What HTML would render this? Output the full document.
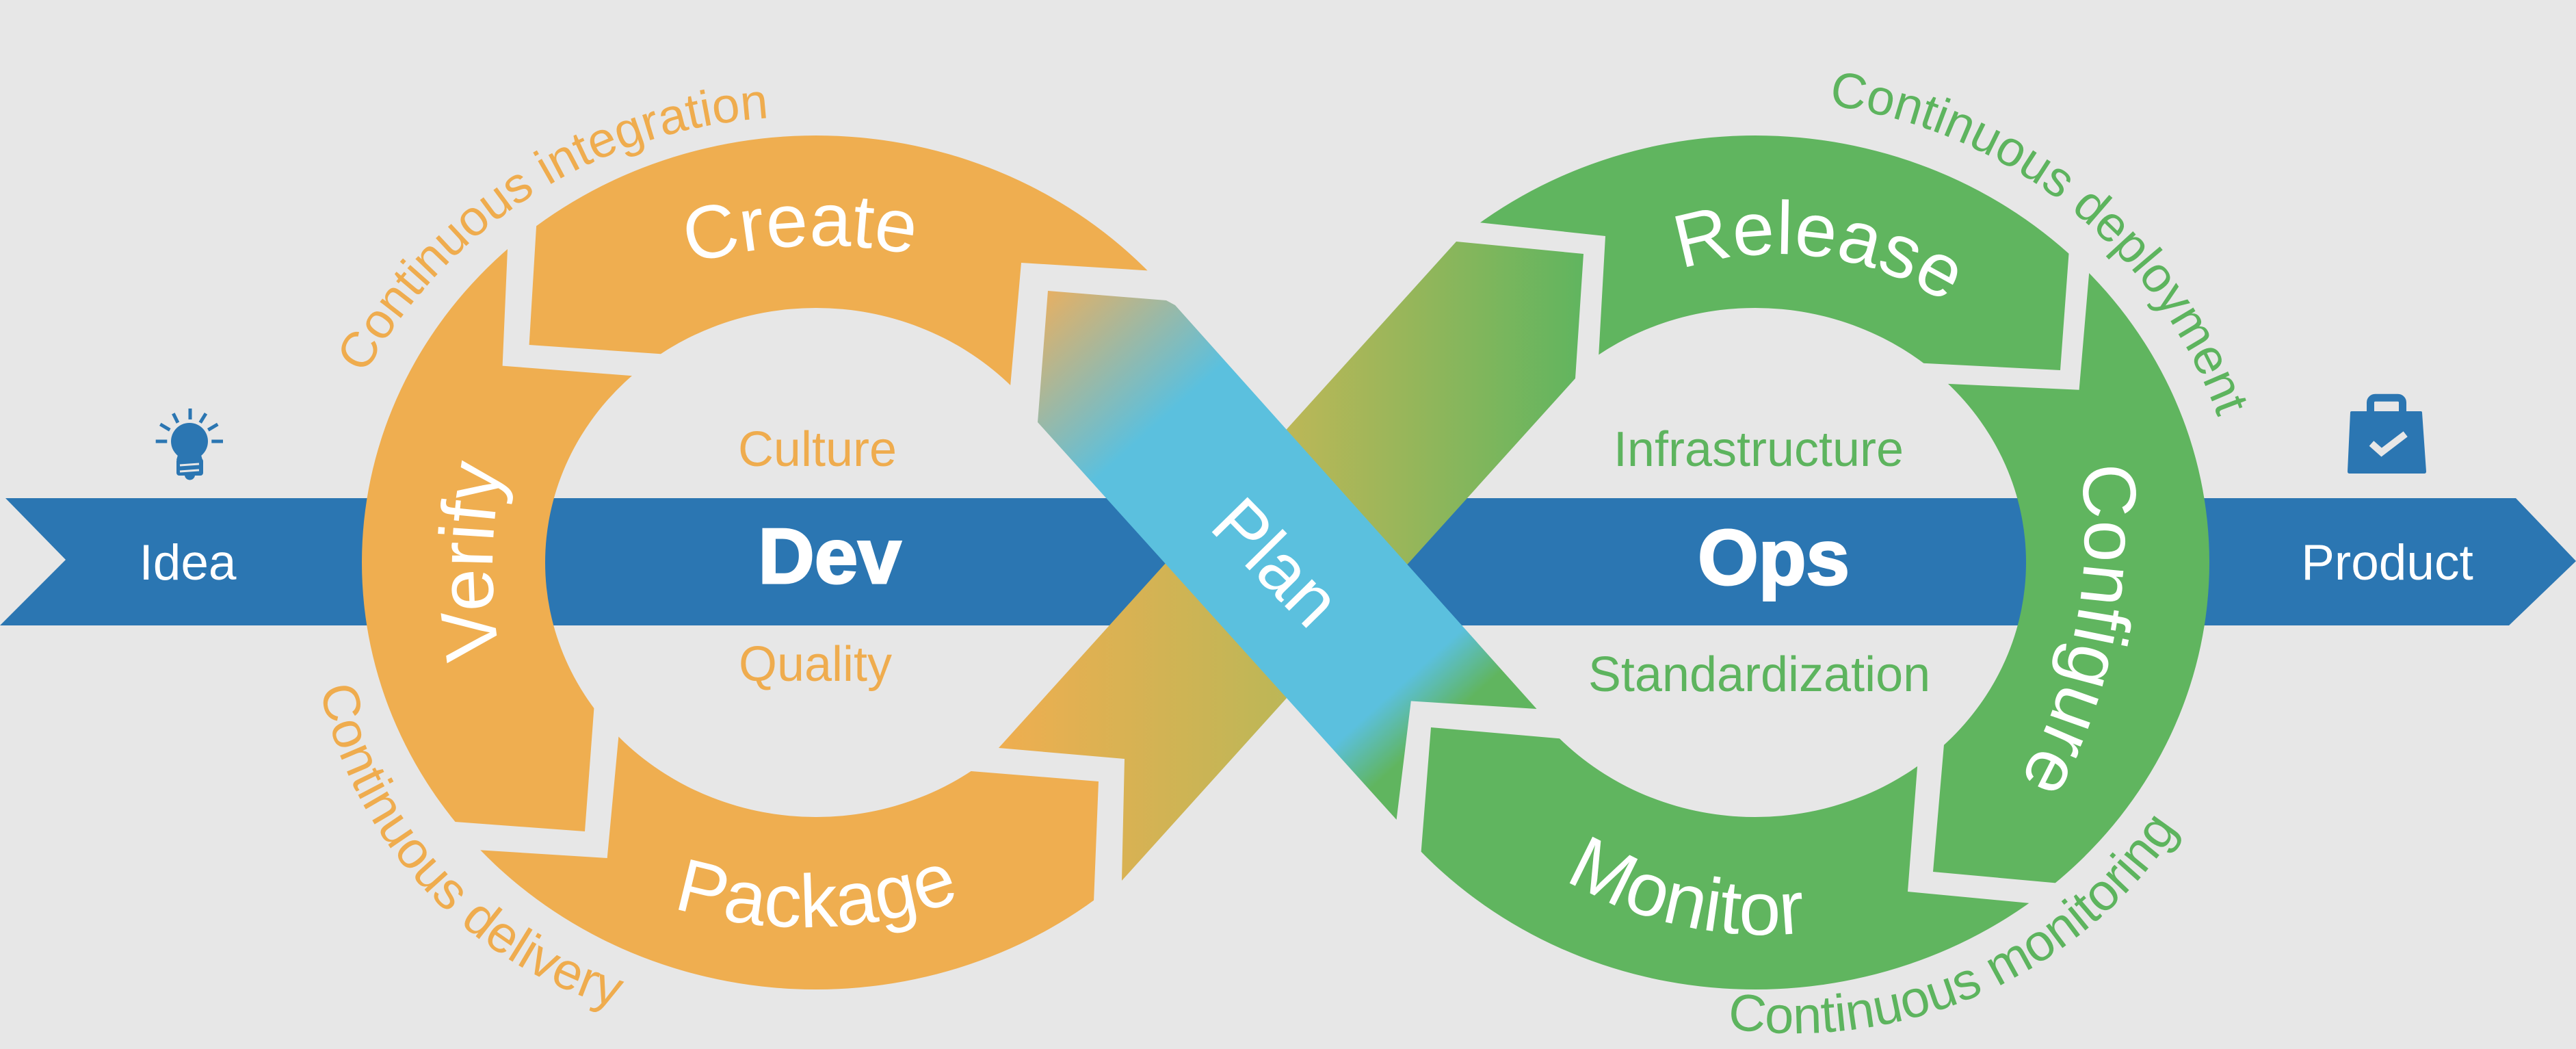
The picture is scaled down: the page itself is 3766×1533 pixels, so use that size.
<!DOCTYPE html>
<html>
<head>
<meta charset="utf-8">
<style>
html,body{margin:0;padding:0;background:#E7E7E7;}
svg{display:block;}
</style>
</head>
<body>
<svg xmlns="http://www.w3.org/2000/svg" width="3766" height="1533" viewBox="0 0 3766 1533">
<defs>
  <clipPath id="cO"><path clip-rule="evenodd" d="M529 822a664 624 0 1 0 1328 0a664 624 0 1 0 -1328 0Z M797 822a396 372 0 1 0 792 0a396 372 0 1 0 -792 0Z"/></clipPath>
  <clipPath id="cG"><path clip-rule="evenodd" d="M1902 822a664 624 0 1 0 1328 0a664 624 0 1 0 -1328 0Z M2170 822a396 372 0 1 0 792 0a396 372 0 1 0 -792 0Z"/></clipPath>
  <linearGradient id="gB" gradientUnits="userSpaceOnUse" x1="1460" y1="0" x2="2315" y2="0">
    <stop offset="0" stop-color="#EFAE50"/>
    <stop offset="0.5" stop-color="#BBB757"/>
    <stop offset="1" stop-color="#60B55F"/>
  </linearGradient>
  <linearGradient id="gA" gradientUnits="userSpaceOnUse" x1="1532" y1="425" x2="2156" y2="1116">
    <stop offset="0" stop-color="#E6B064"/>
    <stop offset="0.27" stop-color="#5BC0DE"/>
    <stop offset="0.83" stop-color="#5BC0DE"/>
    <stop offset="0.92" stop-color="#60B55F"/>
    <stop offset="1" stop-color="#60B55F"/>
  </linearGradient>
  <path id="pInt" d="M443 898 A727 727 0 0 1 1533.5 268.4"/>
  <path id="pDel" d="M491.5 663.3 A622 622 0 0 0 1184 1488.6"/>
  <path id="pDep" d="M2342.9 190.3 A702 702 0 0 1 3274.3 971.9"/>
  <path id="pMon" d="M2190.1 1352.1 A675 675 0 0 0 3299 835"/>
  <path id="pCreate" d="M542.2 819.6 A700 700 0 0 1 1857.8 819.6"/>
  <path id="pRelease" d="M2173.4 669.7 A454 454 0 0 1 3047.1 746.2"/>
  <path id="pPackage" d="M601 1023 A664 664 0 0 0 1751 1023"/>
  <path id="pMonitor" d="M2043.5 989.6 A572 572 0 0 0 3019.2 1161.7"/>
  <path id="pVerify" d="M1110 1505.5 A780 780 0 0 1 1110 154.5"/>
  <path id="pConfig" d="M2873 294.2 A748 748 0 0 1 2674 1422.8"/>
</defs>

<rect x="0" y="0" width="3766" height="1533" fill="#E7E7E7"/>

<!-- Blue band -->
<polygon points="8,728 3678,728 3766,820 3668,914 0,914 96,818" fill="#2B76B2"/>

<!-- Orange ring segments -->
<g fill="#EFAE50" clip-path="url(#cO)">
  <polygon points="798,100 773.6,504 1150,530 1466.8,680 1493,384 1900,409 1900,100"/>
  <polygon points="300,100 753.5,100 734.6,534.6 1050,559 878.5,900 855,1215 300,1174"/>
  <polygon points="916.2,950 887.7,1254 705,1242.5 400,1223.3 400,1600 1587.8,1600 1606,1142 1420,1127 1300,1117.3"/>
</g>

<!-- Green ring segments -->
<g fill="#60B55F" clip-path="url(#cG)">
  <polygon points="1900,100 3044.4,100 3012,541 2700,525 2327,700 2347,345 1900,297"/>
  <polygon points="3079.7,100 3400,100 3400,1326.5 2826,1274 2853.9,950 2750,556.4 3039.6,569.8"/>
  <polygon points="2049.5,1600 2092,1063 2288,1080 2450,1094 2816.2,950 2789,1303 3400,1361 3400,1600"/>
</g>

<!-- X arms -->
<polygon points="2129,353 2315,371 2303,553 1640,1287 1644,1109 1460,1093" fill="url(#gB)"/>
<polygon points="1532,425 1705,439 1718,446 2246.5,1036 2062.8,1024.5 2041.6,1197.9 1517,617" fill="url(#gA)"/>

<!-- Bulb icon -->
<g fill="#2B76B2">
  <circle cx="277" cy="645" r="27"/>
  <path d="M262 658 L292 658 L296 672 L258 672 Z"/>
  <rect x="258" y="670" width="39" height="25" rx="4"/>
  <path d="M270 694 L285 694 A7.5 7.5 0 0 1 270 694 Z"/>
</g>
<path d="M263 680 L291 678 M263 689 L291 687" stroke="#E7E7E7" stroke-width="3" fill="none"/>
<g stroke="#2B76B2" stroke-width="5" fill="none">
  <line x1="278" y1="597" x2="278" y2="613"/>
  <line x1="253.3" y1="604.3" x2="260" y2="617.7"/>
  <line x1="301" y1="604.3" x2="292.7" y2="617.7"/>
  <line x1="234.3" y1="620" x2="248.3" y2="628.3"/>
  <line x1="318.3" y1="620" x2="304.3" y2="628.3"/>
  <line x1="227.7" y1="645" x2="244.3" y2="645"/>
  <line x1="309.3" y1="645" x2="326" y2="645"/>
</g>

<!-- Bag icon -->
<rect x="3465.5" y="581.2" width="47" height="32" rx="7" fill="none" stroke="#2B76B2" stroke-width="11"/>
<path d="M3438 601 L3539 601 Q3541 601 3541 603 L3547 689 Q3547 692 3544 692 L3435 692 Q3432 692 3432 689 L3436 603 Q3436 601 3438 601 Z" fill="#2B76B2"/>
<polyline points="3467,648 3481.7,661 3516.7,634.3" fill="none" stroke="#E7E7E7" stroke-width="10"/>

<!-- Band labels -->
<g font-family="'Liberation Sans', Arial, sans-serif" text-anchor="middle">
  <text x="274.5" y="847" font-size="73" fill="#FFFFFF">Idea</text>
  <text x="3490" y="847" font-size="73" fill="#FFFFFF">Product</text>
  <text x="1213" y="852" font-size="114" font-weight="bold" fill="#FFFFFF" stroke="#FFFFFF" stroke-width="3">Dev</text>
  <text x="2593" y="854" font-size="114" font-weight="bold" fill="#FFFFFF" stroke="#FFFFFF" stroke-width="3">Ops</text>
  <text x="1195" y="681" font-size="72" fill="#EFAC4E">Culture</text>
  <text x="1192" y="995" font-size="72" fill="#EFAC4E">Quality</text>
  <text x="2571" y="681" font-size="72" fill="#5DB45E">Infrastructure</text>
  <text x="2572" y="1010" font-size="72" fill="#5DB45E">Standardization</text>
</g>

<!-- Curved outer labels -->
<g font-family="'Liberation Sans', Arial, sans-serif" text-anchor="middle">
  <text font-size="73" fill="#EFAC4E" text-anchor="middle"><textPath href="#pInt" startOffset="731">Continuous integration</textPath></text>
  <text font-size="76" fill="#EFAC4E" text-anchor="middle"><textPath href="#pDel" startOffset="682">Continuous delivery</textPath></text>
  <text font-size="73" fill="#5DB45E" text-anchor="middle"><textPath href="#pDep" startOffset="719">Continuous deployment</textPath></text>
  <text font-size="76" fill="#5DB45E" text-anchor="middle"><textPath href="#pMon" startOffset="752">Continuous monitoring</textPath></text>
</g>

<!-- Ring labels -->
<g font-family="'Liberation Sans', Arial, sans-serif" fill="#FFFFFF" text-anchor="middle">
  <text font-size="110" text-anchor="middle"><textPath href="#pCreate" startOffset="826">Create</textPath></text>
  <text font-size="110" text-anchor="middle"><textPath href="#pRelease" startOffset="612">Release</textPath></text>
  <text font-size="110" text-anchor="middle"><textPath href="#pPackage" startOffset="714">Package</textPath></text>
  <text font-size="110" text-anchor="middle"><textPath href="#pMonitor" startOffset="574">Monitor</textPath></text>
  <text font-size="112" text-anchor="middle"><textPath href="#pVerify" startOffset="826">Verify</textPath></text>
  <text font-size="110" text-anchor="middle"><textPath href="#pConfig" startOffset="666">Configure</textPath></text>
  <text font-size="106" text-anchor="middle" transform="translate(1840,847) rotate(45.5)" x="0" y="0">Plan</text>
</g>
</svg>
</body>
</html>
